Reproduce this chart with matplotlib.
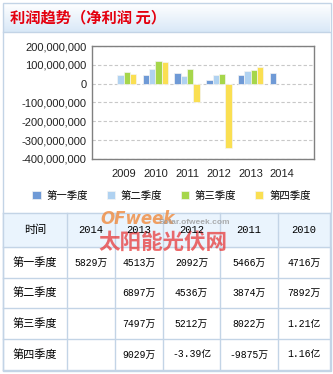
import numpy as np
import matplotlib.pyplot as plt
from matplotlib.patches import Rectangle
from matplotlib.ticker import FuncFormatter

plt.rcParams['font.family'] = ['Liberation Sans', 'Noto Sans CJK SC']

years = ["2009", "2010", "2011", "2012", "2013", "2014"]
quarters = ["第一季度", "第二季度", "第三季度", "第四季度"]
q1 = [np.nan, 47160000, 54660000, 20920000, 45130000, 58290000]
q2 = [47000000, 78920000, 38740000, 45360000, 68970000, np.nan]
q3 = [63000000, 121000000, 80220000, 52120000, 74970000, np.nan]
q4 = [53000000, 116000000, -98750000, -339000000, 90290000, np.nan]
colors = ["#6f9ad6", "#b0d2f1", "#a6d64b", "#fadf52"]

table_header = ["时间", "2014", "2013", "2012", "2011", "2010"]
table_rows = [
    ["5829万", "4513万", "2092万", "5466万", "4716万"],
    ["", "6897万", "4536万", "3874万", "7892万"],
    ["", "7497万", "5212万", "8022万", "1.21亿"],
    ["", "9029万", "-3.39亿", "-9875万", "1.16亿"],
]

W, H = 333, 374
fig = plt.figure(figsize=(W / 100, H / 100), dpi=100)

# background layer in pixel coordinates
bg = fig.add_axes([0, 0, 1, 1])
bg.set_xlim(0, W)
bg.set_ylim(H, 0)
bg.axis('off')

line_c = "#c3d4e6"
# outer panel
bg.add_patch(Rectangle((2.5, 2.5), 328, 368, fill=False, ec=line_c, lw=1))
# title bar gradient
grad = np.linspace(0, 1, 50).reshape(-1, 1)
top = np.array([1.0, 1.0, 1.0])
bot = np.array([0.85, 0.91, 0.97])
img = top + grad[..., None] * (bot - top)
bg.imshow(img, extent=(3, 330, 32, 3), aspect='auto', zorder=0)
bg.plot([3, 330], [32, 32], color=line_c, lw=1)
bg.text(10, 17, "利润趋势（净利润 元）", color="#e4000f", fontsize=11,
        fontweight='bold', family=['Noto Sans CJK SC'], va='center', ha='left')

# chart
ax = fig.add_axes([92 / W, 1 - 159 / H, 222 / W, 113 / H])
x = np.arange(len(years))
w = 0.2
for i, (vals, c) in enumerate(zip([q1, q2, q3, q4], colors)):
    ax.bar(x + (i - 1.5) * w, vals, w, color=c, edgecolor='#f4f4f4',
           linewidth=0.5, label=quarters[i], zorder=3)
ax.set_xlim(-1, 6)
ax.set_ylim(-400000000, 200000000)
ax.set_yticks(np.arange(-400000000, 200000001, 100000000))
ax.yaxis.set_major_formatter(FuncFormatter(lambda v, p: f"{v:,.0f}"))
ax.set_xticks(x)
ax.set_xticklabels(years)
ax.tick_params(length=0, labelsize=8, colors='#222222', pad=4)
ax.tick_params(axis='x', pad=7)
ax.grid(axis='y', color='#c8c8c8', linestyle=(0, (3, 2)), lw=0.8, zorder=0)
for s in ax.spines.values():
    s.set_color('#808080')
    s.set_linewidth(1)

handles, labels = ax.get_legend_handles_labels()
fig.legend(handles, labels, ncol=4, loc='center left',
           bbox_to_anchor=(27 / W, 1 - 196 / H), frameon=False,
           prop={'family': ['Noto Sans CJK SC'], 'size': 7.5},
           handlelength=0.8, handleheight=0.8, handletextpad=0.55,
           columnspacing=1.8, borderpad=0)

# table
col_x = [3, 67, 115, 163, 220, 278, 330]
row_y = [213, 247, 278, 308, 339, 370]
bg.add_patch(Rectangle((col_x[0], row_y[0]), col_x[-1] - col_x[0],
                       row_y[1] - row_y[0], color="#eaf4fd", zorder=1))
for cx in col_x:
    bg.plot([cx, cx], [row_y[0], row_y[-1]], color=line_c, lw=1, zorder=2)
for ry in row_y:
    bg.plot([col_x[0], col_x[-1]], [ry, ry], color=line_c, lw=1, zorder=2)

num_font = ['Liberation Mono', 'Noto Sans CJK SC']
cjk = ['Noto Sans CJK SC']
for j, h in enumerate(table_header):
    cx = (col_x[j] + col_x[j + 1]) / 2
    cy = (row_y[0] + row_y[1]) / 2
    bg.text(cx, cy, h, ha='center', va='center', fontsize=8 if j == 0 else 7.5,
            family=cjk if j == 0 else num_font, zorder=4)
for r, row in enumerate(table_rows):
    cy = (row_y[r + 1] + row_y[r + 2]) / 2
    bg.text((col_x[0] + col_x[1]) / 2, cy, quarters[r], ha='center',
            va='center', fontsize=8, family=cjk, zorder=4)
    for j, v in enumerate(row):
        cx = (col_x[j + 1] + col_x[j + 2]) / 2
        bg.text(cx, cy, v, ha='center', va='center', fontsize=7,
                family=num_font, zorder=4)

# watermark
bg.text(100, 219, "OFweek", color="#f08a3c", fontsize=12, fontweight='bold',
        style='italic', family=['DejaVu Sans'], va='center', alpha=0.8, zorder=3)
bg.text(159, 222, "Solar.ofweek.com", color="#999999", fontsize=6,
        fontweight='bold', va='center', alpha=0.8, zorder=3)
bg.text(98, 242, "太阳能光伏网", color="#e8393a", fontsize=15.5,
        fontweight='bold', family=cjk, va='center', alpha=0.75, zorder=3)

fig.savefig("out.png", dpi=100)
